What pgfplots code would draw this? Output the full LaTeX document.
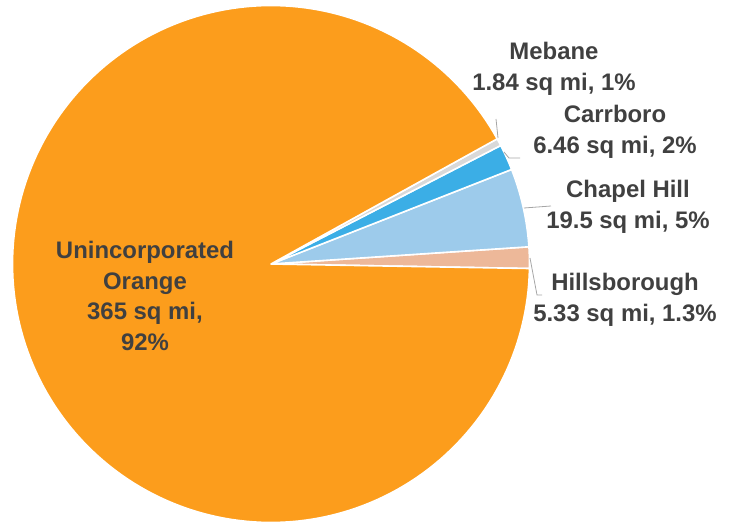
\documentclass[border=0pt]{standalone}
\usepackage{pgfplots}
\usepackage{pgfplotstable}
\pgfplotsset{compat=1.18}
\usepackage{fontspec}
\setmainfont{Liberation Sans}
\definecolor{cUninc}{HTML}{FC9D1C}
\definecolor{cChapel}{HTML}{9DCBEB}
\definecolor{cCarr}{HTML}{3BAEE6}
\definecolor{cHills}{HTML}{EDB899}
\definecolor{cMeb}{HTML}{D9D9D9}
\definecolor{txt}{HTML}{404040}
\definecolor{lead}{HTML}{A6A6A6}
\pgfplotstableread{
name value
Hillsborough 5.33
ChapelHill 19.5
Carrboro 6.46
Mebane 1.84
Unincorporated 365
}\areas
\begin{document}
\begin{tikzpicture}
\pgfplotstablegetelem{0}{value}\of\areas \let\vA\pgfplotsretval
\pgfplotstablegetelem{1}{value}\of\areas \let\vB\pgfplotsretval
\pgfplotstablegetelem{2}{value}\of\areas \let\vC\pgfplotsretval
\pgfplotstablegetelem{3}{value}\of\areas \let\vD\pgfplotsretval
\pgfplotstablegetelem{4}{value}\of\areas \let\vE\pgfplotsretval
\pgfmathsetmacro\tot{\vA+\vB+\vC+\vD+\vE}
\pgfmathsetmacro\aO{-1}
\pgfmathsetmacro\aA{\aO+360*(\vA/\tot)}
\pgfmathsetmacro\aB{\aA+360*(\vB/\tot)}
\pgfmathsetmacro\aC{\aB+360*(\vC/\tot)}
\pgfmathsetmacro\aD{\aC+360*(\vD/\tot)}
\pgfmathsetmacro\aE{\aO+360}
\def\cx{271}\def\cy{259}\def\rr{258.5}
\begin{axis}[
  width=734bp, height=523bp, scale only axis,
  xmin=0, xmax=734, ymin=0, ymax=523,
  hide axis, clip=false,
  every axis plot/.append style={draw=white, line width=1.6bp, line join=round},
]
\path (axis cs:0,0) rectangle (axis cs:734,523);
\addplot[fill=cHills, domain=\aO:\aA, samples=10, variable=\t] ({\cx+\rr*cos(\t)},{\cy+\rr*sin(\t)}) -- (axis cs:\cx,\cy) -- cycle;
\addplot[fill=cChapel, domain=\aA:\aB, samples=20, variable=\t] ({\cx+\rr*cos(\t)},{\cy+\rr*sin(\t)}) -- (axis cs:\cx,\cy) -- cycle;
\addplot[fill=cCarr, domain=\aB:\aC, samples=10, variable=\t] ({\cx+\rr*cos(\t)},{\cy+\rr*sin(\t)}) -- (axis cs:\cx,\cy) -- cycle;
\addplot[fill=cMeb, domain=\aC:\aD, samples=5, variable=\t] ({\cx+\rr*cos(\t)},{\cy+\rr*sin(\t)}) -- (axis cs:\cx,\cy) -- cycle;
\addplot[fill=cUninc, domain=\aD:\aE, samples=200, variable=\t] ({\cx+\rr*cos(\t)},{\cy+\rr*sin(\t)}) -- (axis cs:\cx,\cy) -- cycle;
% leader lines
\draw[lead, line width=0.8bp] (axis cs:498,385) -- (axis cs:496,404);
\draw[lead, line width=0.8bp] (axis cs:504,371) -- (axis cs:509,365) -- (axis cs:520,365);
\draw[lead, line width=0.8bp] (axis cs:524,315) -- (axis cs:551,317);
\draw[lead, line width=0.8bp] (axis cs:530,265) -- (axis cs:537,228) -- (axis cs:542,228);
% labels
\tikzset{lbl/.style={text=txt, font=\fontsize{24}{31}\selectfont\bfseries, align=center, inner sep=0pt}}
\node[lbl] at (axis cs:554,454) {Mebane\\1.84 sq mi, 1\%};
\node[lbl] at (axis cs:615,391) {Carrboro\\6.46 sq mi, 2\%};
\node[lbl] at (axis cs:628,316) {Chapel Hill\\19.5 sq mi, 5\%};
\node[lbl] at (axis cs:625,223) {Hillsborough\\5.33 sq mi, 1.3\%};
\node[lbl] at (axis cs:145,227) {Unincorporated\\Orange\\365 sq mi,\\92\%};
\end{axis}
\end{tikzpicture}
\end{document}
